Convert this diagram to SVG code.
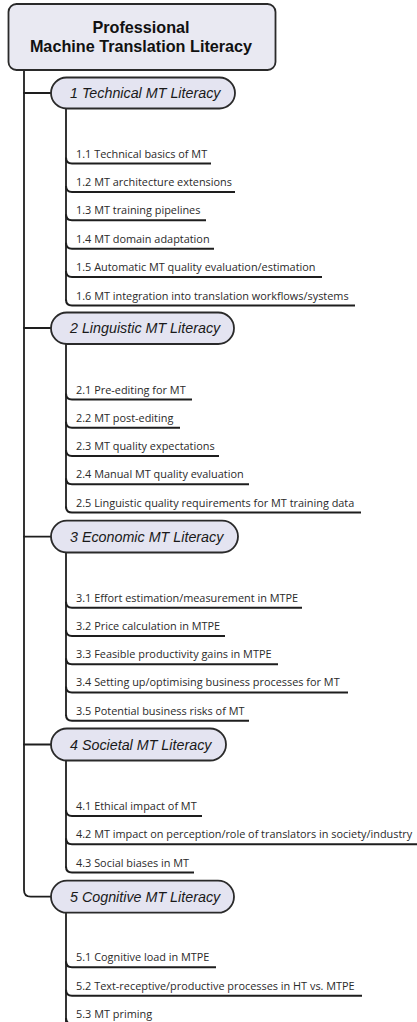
<svg xmlns="http://www.w3.org/2000/svg" width="417" height="1022" viewBox="0 0 417 1022">
<style>
.bg{fill:#ffffff}
.root{fill:#e9e9f2;stroke:#2a2a2a;stroke-width:1.8}
.cat{fill:#e4e4f1;stroke:#2a2a2a;stroke-width:1.8}
.rt{font-family:"Liberation Sans",Arial,sans-serif;font-weight:bold;font-size:16.2px;fill:#111;text-anchor:middle}
.ct{font-family:"Liberation Sans",Arial,sans-serif;font-style:italic;font-size:14.3px;fill:#1a1a1a}
.it{font-family:"Open Sans","Noto Sans",sans-serif;font-size:10.9px;fill:#2a2a2a}
.ln{fill:none;stroke:#1e1e1e;stroke-width:1.8;stroke-linecap:round}
.ul{fill:none;stroke:#1e1e1e;stroke-width:2}
</style>
<rect class="bg" x="0" y="0" width="417" height="1022"/>
<g id="connectors">
<path class="ln" d="M24,70 V890 Q24,896.7 30.7,896.7 H52"/>
<path class="ln" d="M24,93 H52"/>
<path class="ln" d="M24,328 H52"/>
<path class="ln" d="M24,536.6 H52"/>
<path class="ln" d="M24,744.5 H52"/>
<path class="ln" d="M66,108 V300"/>
<path class="ln" d="M66,344 V507"/>
<path class="ln" d="M66,552 V715"/>
<path class="ln" d="M66,760 V867"/>
<path class="ln" d="M66,912 V1022"/>
</g>
<g id="root">
<rect class="root" x="8.5" y="4" width="267" height="66" rx="8"/>
<text class="rt" x="141" y="33">Professional</text>
<text class="rt" x="141" y="52">Machine Translation Literacy</text>
</g>
<g id="cat1">
<rect class="cat" x="51" y="77.5" width="184" height="31" rx="15.5"/>
<text class="ct" x="70" y="98">1 Technical MT Literacy</text>
</g>
<g id="i1-1"><path class="ul" d="M66,157.5 Q66,163.5 72,163.5 H211"/><text class="it" x="76" y="157.5">1.1 Technical basics of MT</text></g>
<g id="i1-2"><path class="ul" d="M66,185.9 Q66,191.9 72,191.9 H235"/><text class="it" x="76" y="185.9">1.2 MT architecture extensions</text></g>
<g id="i1-3"><path class="ul" d="M66,214.3 Q66,220.3 72,220.3 H206"/><text class="it" x="76" y="214.3">1.3 MT training pipelines</text></g>
<g id="i1-4"><path class="ul" d="M66,242.7 Q66,248.7 72,248.7 H214"/><text class="it" x="76" y="242.7">1.4 MT domain adaptation</text></g>
<g id="i1-5"><path class="ul" d="M66,271.1 Q66,277.1 72,277.1 H322"/><text class="it" x="76" y="271.1">1.5 Automatic MT quality evaluation/estimation</text></g>
<g id="i1-6"><path class="ul" d="M66,299.5 Q66,305.5 72,305.5 H355"/><text class="it" x="76" y="299.5">1.6 MT integration into translation workflows/systems</text></g>
<g id="cat2">
<rect class="cat" x="51" y="312.5" width="183" height="31.5" rx="15.75"/>
<text class="ct" x="70" y="333">2 Linguistic MT Literacy</text>
</g>
<g id="i2-1"><path class="ul" d="M66,393.5 Q66,399.5 72,399.5 H192"/><text class="it" x="76" y="393.5">2.1 Pre-editing for MT</text></g>
<g id="i2-2"><path class="ul" d="M66,421.75 Q66,427.75 72,427.75 H180"/><text class="it" x="76" y="421.75">2.2 MT post-editing</text></g>
<g id="i2-3"><path class="ul" d="M66,450 Q66,456 72,456 H219"/><text class="it" x="76" y="450">2.3 MT quality expectations</text></g>
<g id="i2-4"><path class="ul" d="M66,478.25 Q66,484.25 72,484.25 H249"/><text class="it" x="76" y="478.25">2.4 Manual MT quality evaluation</text></g>
<g id="i2-5"><path class="ul" d="M66,506.5 Q66,512.5 72,512.5 H361"/><text class="it" x="76" y="506.5">2.5 Linguistic quality requirements for MT training data</text></g>
<g id="cat3">
<rect class="cat" x="51" y="520.7" width="187" height="31.8" rx="15.9"/>
<text class="ct" x="70" y="541.5">3 Economic MT Literacy</text>
</g>
<g id="i3-1"><path class="ul" d="M66,601.7 Q66,607.7 72,607.7 H302"/><text class="it" x="76" y="601.7">3.1 Effort estimation/measurement in MTPE</text></g>
<g id="i3-2"><path class="ul" d="M66,630 Q66,636 72,636 H225"/><text class="it" x="76" y="630">3.2 Price calculation in MTPE</text></g>
<g id="i3-3"><path class="ul" d="M66,658.3 Q66,664.3 72,664.3 H278"/><text class="it" x="76" y="658.3">3.3 Feasible productivity gains in MTPE</text></g>
<g id="i3-4"><path class="ul" d="M66,686.4 Q66,692.4 72,692.4 H348"/><text class="it" x="76" y="686.4">3.4 Setting up/optimising business processes for MT</text></g>
<g id="i3-5"><path class="ul" d="M66,714.7 Q66,720.7 72,720.7 H249"/><text class="it" x="76" y="714.7">3.5 Potential business risks of MT</text></g>
<g id="cat4">
<rect class="cat" x="51" y="728.5" width="175" height="32" rx="16"/>
<text class="ct" x="70" y="749.5">4 Societal MT Literacy</text>
</g>
<g id="i4-1"><path class="ul" d="M66,810 Q66,816 72,816 H202"/><text class="it" x="76" y="810">4.1 Ethical impact of MT</text></g>
<g id="i4-2"><path class="ul" d="M66,838.3 Q66,844.3 72,844.3 H417"/><text class="it" x="76" y="838.3">4.2 MT impact on perception/role of translators in society/industry</text></g>
<g id="i4-3"><path class="ul" d="M66,866.5 Q66,872.5 72,872.5 H194"/><text class="it" x="76" y="866.5">4.3 Social biases in MT</text></g>
<g id="cat5">
<rect class="cat" x="51" y="880.7" width="183" height="32" rx="16"/>
<text class="ct" x="70" y="901.7">5 Cognitive MT Literacy</text>
</g>
<g id="i5-1"><path class="ul" d="M66,961.3 Q66,967.3 72,967.3 H216"/><text class="it" x="76" y="961.3">5.1 Cognitive load in MTPE</text></g>
<g id="i5-2"><path class="ul" d="M66,989.7 Q66,995.7 72,995.7 H362"/><text class="it" x="76" y="989.7">5.2 Text-receptive/productive processes in HT vs. MTPE</text></g>
<g id="i5-3"><path class="ul" d="M66,1018 Q66,1024 72,1024 H160"/><text class="it" x="76" y="1018">5.3 MT priming</text></g>
</svg>
